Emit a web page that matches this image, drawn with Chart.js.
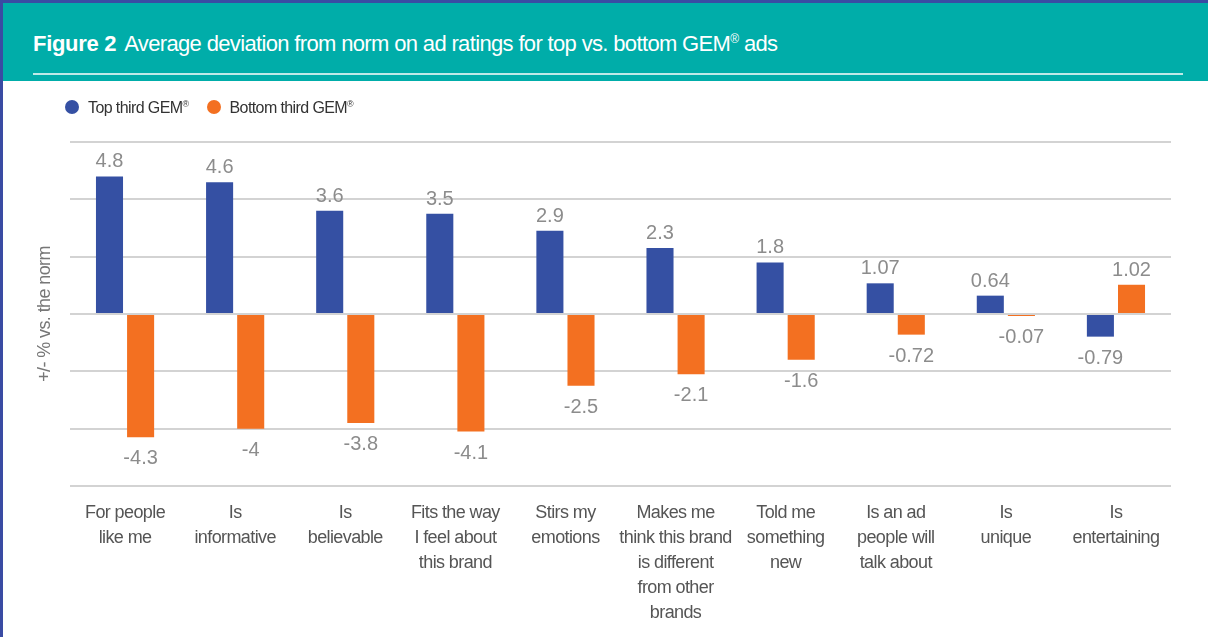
<!DOCTYPE html>
<html>
<head>
<meta charset="utf-8">
<script src="https://cdn.jsdelivr.net/npm/chart.js@4.4.1/dist/chart.umd.min.js"></script>
<style>
  html, body { margin: 0; padding: 0; background: #fff; }
  #page { position: relative; width: 1208px; height: 637px; overflow: hidden; background: #fff;
          font-family: 'Liberation Sans', Arial, sans-serif; }
  #topbar { position: absolute; left: 0; top: 0; width: 1208px; height: 3px; background: #3a4ba3; }
  #leftbar { position: absolute; left: 0; top: 0; width: 3px; height: 637px; background: #3a4ba3; z-index: 5; }
  #header { position: absolute; left: 3px; top: 3px; width: 1205px; height: 78px; background: #00ada9; }
  #title { position: absolute; left: 30px; top: 28px; color: #fff; font-size: 22px; white-space: nowrap; }
  #title b { font-weight: bold; letter-spacing: -0.3px; margin-right: 8px; }
  #title span { letter-spacing: -0.65px; }
  #rule { position: absolute; left: 30px; top: 70px; width: 1150px; height: 2px; background: #bfe9e7; }
  #legend { position: absolute; left: 65px; top: 99px; font-size: 16px; color: #333; white-space: nowrap; z-index: 4; letter-spacing: -0.6px; }
  #legend span.item { display: inline-block; margin-right: 18px; }
  #legend i { display: inline-block; width: 14px; height: 14px; border-radius: 50%; vertical-align: -1px; margin-right: 9px; }
  #legend sup { font-size: 9px; }
  #chartBox { position: absolute; left: 0; top: 81px; width: 1208px; height: 556px; }
</style>
</head>
<body>
<div id="page">
  <div id="topbar"></div>
  <div id="header">
    <div id="title"><b>Figure 2</b><span>Average deviation from norm on ad ratings for top vs. bottom GEM<sup style="font-size:12px">®</sup> ads</span></div>
    <div id="rule"></div>
  </div>
  <div id="leftbar"></div>
  <div id="legend"></div>
  <div id="chartBox"><canvas id="chartGem"></canvas></div>
</div>
<script>
/* ===== DATA ===== */
const categories = [
  ['For people', 'like me'],
  ['Is', 'informative'],
  ['Is', 'believable'],
  ['Fits the way', 'I feel about', 'this brand'],
  ['Stirs my', 'emotions'],
  ['Makes me', 'think this brand', 'is different', 'from other', 'brands'],
  ['Told me', 'something', 'new'],
  ['Is an ad', 'people will', 'talk about'],
  ['Is', 'unique'],
  ['Is', 'entertaining']
];
const topThird    = [4.8, 4.6, 3.6, 3.5, 2.9, 2.3, 1.8, 1.07, 0.64, -0.79];
const bottomThird = [-4.3, -4, -3.8, -4.1, -2.5, -2.1, -1.6, -0.72, -0.07, 1.02];
const seriesNames = ['Top third GEM®', 'Bottom third GEM®'];
const yTicks = [-6, -4, -2, 0, 2, 4, 6];

const BLUE = '#3550a3', ORANGE = '#f37021';

/* ===== LEGEND (html) ===== */
(function(){
  const lg = document.getElementById('legend');
  [BLUE, ORANGE].forEach((c, i) => {
    const name = seriesNames[i].replace('®', '');
    lg.innerHTML += '<span class="item"><i style="background:' + c + '"></i>' + name + '<sup>®</sup></span>';
  });
})();

/* ===== narrower axis text (no condensed font installed) ===== */
const tightText = {
  id: 'tightText',
  beforeDraw(chart) { chart.ctx.letterSpacing = '-0.6px'; }
};

/* ===== VALUE LABELS ===== */
const valueLabels = {
  id: 'valueLabels',
  afterDatasetsDraw(chart) {
    const ctx = chart.ctx;
    ctx.save();
    ctx.letterSpacing = '0px';
    ctx.font = "20px 'Liberation Sans', Arial, sans-serif";
    ctx.fillStyle = '#8c8c8c';
    ctx.textAlign = 'center';
    ctx.textBaseline = 'alphabetic';
    chart.data.datasets.forEach((ds, di) => {
      chart.getDatasetMeta(di).data.forEach((bar, i) => {
        const v = ds.data[i];
        const y = v >= 0 ? bar.y - 9 : bar.y + 27;
        ctx.fillText(String(v), bar.x, y);
      });
    });
    ctx.restore();
  }
};

/* ===== CHART ===== */
new Chart(document.getElementById('chartGem'), {
  type: 'bar',
  data: {
    labels: categories,
    datasets: [
      { label: seriesNames[0], data: topThird, backgroundColor: BLUE, barPercentage: 0.87, categoryPercentage: 0.565 },
      { label: seriesNames[1], data: bottomThird, backgroundColor: ORANGE, barPercentage: 0.87, categoryPercentage: 0.565 }
    ]
  },
  options: {
    responsive: true, maintainAspectRatio: false, animation: false,
    layout: { padding: { left: 30, right: 37, top: 61, bottom: 0 } },
    plugins: { legend: { display: false }, tooltip: { enabled: false } },
    scales: {
      x: {
        grid: { display: false },
        border: { display: false },
        ticks: {
          autoSkip: false, maxRotation: 0, padding: 6, color: '#555',
          font: { family: "'Liberation Sans', Arial, sans-serif", size: 18, lineHeight: 1.4 }
        },
        afterFit: s => { s.height = 151; }
      },
      y: {
        min: yTicks[0], max: yTicks[yTicks.length - 1],
        afterBuildTicks: s => { s.ticks = yTicks.map(v => ({ value: v })); },
        grid: { color: '#d3d3d3', lineWidth: 2, drawTicks: false },
        border: { display: false },
        ticks: { display: false },
        title: {
          display: true, text: '+/- % vs. the norm', color: '#777',
          font: { family: "'Liberation Sans', Arial, sans-serif", size: 18 }
        },
        afterFit: s => { s.width = 40; }
      }
    }
  },
  plugins: [tightText, valueLabels]
});
</script>
</body>
</html>
